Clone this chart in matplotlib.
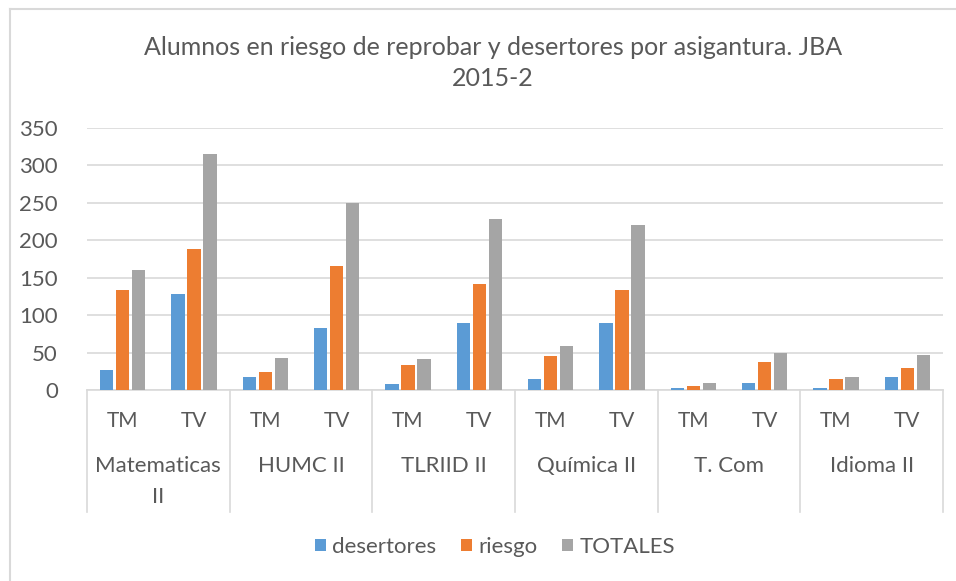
import matplotlib
matplotlib.use("Agg")
import matplotlib.pyplot as plt
import matplotlib.transforms as mtransforms
from matplotlib.lines import Line2D
from matplotlib.patches import Patch
import numpy as np

plt.rcParams['font.family'] = ['Lato', 'DejaVu Sans']

# Data
subjects = ["Matematicas\nII", "HUMC II", "TLRIID II", "Química II", "T. Com", "Idioma II"]
shifts = ["TM", "TV"]
desertores = [27, 128, 18, 83, 8, 89, 15, 89, 3, 10, 3, 18]
riesgo = [134, 188, 24, 165, 33, 142, 45, 133, 5, 38, 15, 30]
totales = [160, 315, 43, 250, 42, 229, 59, 220, 10, 49, 17, 47]
series_names = ["desertores", "riesgo", "TOTALES"]
colors = ["#5B9BD5", "#ED7D31", "#A5A5A5"]
yticks = [0, 50, 100, 150, 200, 250, 300, 350]

W, H = 956, 581
fig = plt.figure(figsize=(W / 100, H / 100), dpi=100)
text_color = "#595959"

# Plot area in pixels
left, right, top, bottom = 87, 943, 128, 390
ax = fig.add_axes([left / W, 1 - bottom / H, (right - left) / W, (bottom - top) / H])

n = len(desertores)
x = np.arange(n) + 0.5
bw = 0.185
step = 0.225
for i, (vals, c, name) in enumerate(zip([desertores, riesgo, totales], colors, series_names)):
    ax.bar(x + (i - 1) * step, vals, width=bw, color=c, label=name, zorder=3)

ax.set_xlim(0, n)
ax.set_ylim(0, 350)
ax.set_yticks(yticks)
ax.set_yticklabels([str(t) for t in yticks], fontsize=16, color=text_color)
ax.tick_params(axis='y', length=0, pad=21)
ax.tick_params(axis='x', length=0, labelbottom=False)
ax.grid(axis='y', color="#D9D9D9", linewidth=1.2, zorder=0)
for s in ["top", "right", "left"]:
    ax.spines[s].set_visible(False)
ax.spines["bottom"].set_color("#D9D9D9")
ax.spines["bottom"].set_linewidth(1.2)

# Multi-level category axis
ph = bottom - top
trans = mtransforms.blended_transform_factory(ax.transData, ax.transAxes)
for k in range(len(subjects) + 1):
    ax.plot([2 * k, 2 * k], [0, -(512 - 390) / ph], transform=trans,
            color="#D9D9D9", linewidth=1.2, clip_on=False)
for j in range(n):
    ax.text(x[j], -(421 - 390) / ph, shifts[j % 2], transform=trans,
            ha="center", va="center", fontsize=15, color=text_color)
for k, name in enumerate(subjects):
    ax.text(2 * k + 1, -(456 - 390) / ph, name, transform=trans,
            ha="center", va="top", fontsize=16, color=text_color, linespacing=1.7)

# Title
fig.text(493 / W, 1 - 63 / H, "Alumnos en riesgo de reprobar y desertores por asigantura. JBA\n2015-2",
         ha="center", va="center", fontsize=18, color=text_color, linespacing=1.4)

# Legend
handles = [Patch(facecolor=c, label=nm) for c, nm in zip(colors, series_names)]
fig.legend(handles=handles, loc="center", bbox_to_anchor=(495 / W, 1 - 547 / H), ncol=3,
           frameon=False, fontsize=16, handlelength=0.5, handleheight=0.5,
           handletextpad=0.3, columnspacing=1.1, labelcolor=text_color)

# Chart area border
fig.add_artist(Line2D([10 / W, 10 / W], [0, 1 - 9 / H], transform=fig.transFigure,
                      color="#D9D9D9", linewidth=1.5))
fig.add_artist(Line2D([10 / W, 1], [1 - 9 / H, 1 - 9 / H], transform=fig.transFigure,
                      color="#D9D9D9", linewidth=1.5))

fig.savefig("out.png", dpi=100)
